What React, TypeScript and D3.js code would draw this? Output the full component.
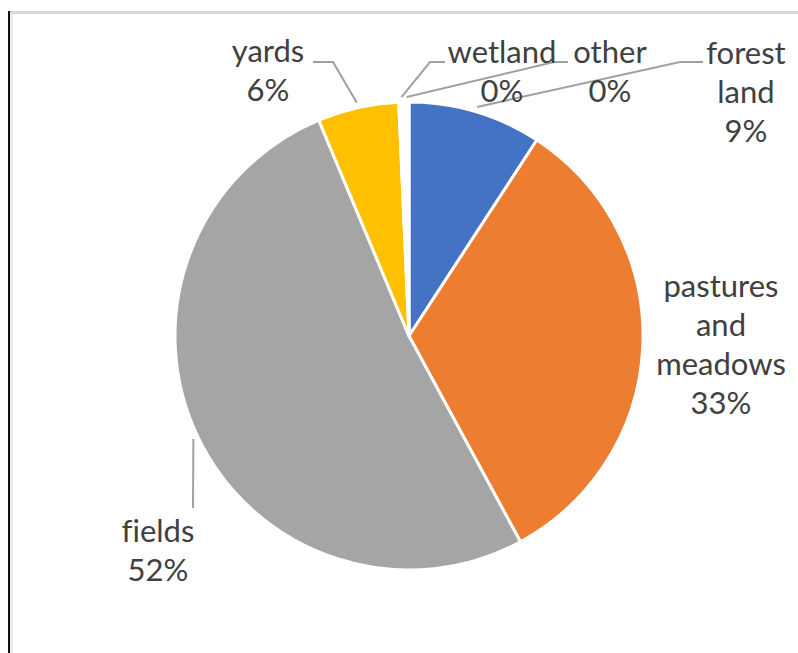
import React from "react";
import * as d3 from "d3";

// ---- data ----
const categories = ["forest land", "pastures and meadows", "fields", "yards", "wetland", "other"];
const values = [9.2, 32.9, 51.6, 5.6, 0.4, 0.3];
const percentLabels = ["9%", "33%", "52%", "6%", "0%", "0%"];
const labelLines = [["forest", "land", "9%"], ["pastures", "and", "meadows", "33%"], ["fields", "52%"], ["yards", "6%"], ["wetland", "0%"], ["other", "0%"]];

// ---- style / layout ----
const colors = ["#4472C4", "#ED7D31", "#A5A5A5", "#FFC000", "#FFFFFF", "#FFFFFF"];
const W = 798, H = 653;
const cx = 409, cy = 336, R = 234;
const fontSize = 31, lineH = 39;
// label centers (x) and first-line baselines (y)
const labelPos = [
  { x: 746, y: 64 },
  { x: 721, y: 297 },
  { x: 158, y: 542 },
  { x: 268, y: 62 },
  { x: 502, y: 63 },
  { x: 610, y: 63 },
];
// leader line: points near the label, or null
const leaders: ([number, number][] | null)[] = [
  [[680, 62], [703, 62]],
  null,
  [[193, 508]],
  [[333, 62], [313, 62]],
  [[430, 62], [445, 62]],
  [[554, 62], [568, 62]],
];

export default function App() {
  const pie = d3.pie<number>().sort(null).value((d) => d);
  const arcs = pie(values);
  const arc = d3.arc<d3.PieArcDatum<number>>().innerRadius(0).outerRadius(R);
  const outer = d3.arc<d3.PieArcDatum<number>>().innerRadius(R + 5).outerRadius(R + 5);
  const line = d3.line();

  return (
    <svg width={W} height={H} style={{ position: "fixed", left: 0, top: 0, background: "#fff" }}>
      <rect x={0} y={0} width={W} height={H} fill="#ffffff" />
      <line x1={8} y1={12.5} x2={W} y2={12.5} stroke="#d6d6d6" strokeWidth={3} />
      <line x1={11.5} y1={14} x2={11.5} y2={H} stroke="#ececec" strokeWidth={3} />
      <line x1={9} y1={11} x2={9} y2={H} stroke="#111" strokeWidth={2} />
      <g transform={`translate(${cx},${cy})`}>
        {arcs.map((a, i) => (
          <path key={categories[i]} d={arc(a) || ""} fill={colors[i]} stroke="#fff" strokeWidth={3} strokeLinejoin="round" />
        ))}
      </g>
      {arcs.map((a, i) => {
        const pts = leaders[i];
        if (!pts) return null;
        const [sx, sy] = outer.centroid(a);
        const all: [number, number][] = [[sx + cx, sy + cy], ...pts];
        return <path key={"l" + i} d={line(all) || ""} fill="none" stroke="#a0a0a0" strokeWidth={2} />;
      })}
      {labelLines.map((lines, i) => (
        <text key={"t" + i} x={labelPos[i].x} y={labelPos[i].y} textAnchor="middle" fontFamily="Lato, 'DejaVu Sans'" fontSize={fontSize} fill="#404040" style={{ fontVariantLigatures: "none" }}>
          {lines.map((s, j) => (
            <tspan key={j} x={labelPos[i].x} y={labelPos[i].y + j * lineH}>{s === percentLabels[i] ? percentLabels[i] : s}</tspan>
          ))}
        </text>
      ))}
    </svg>
  );
}
